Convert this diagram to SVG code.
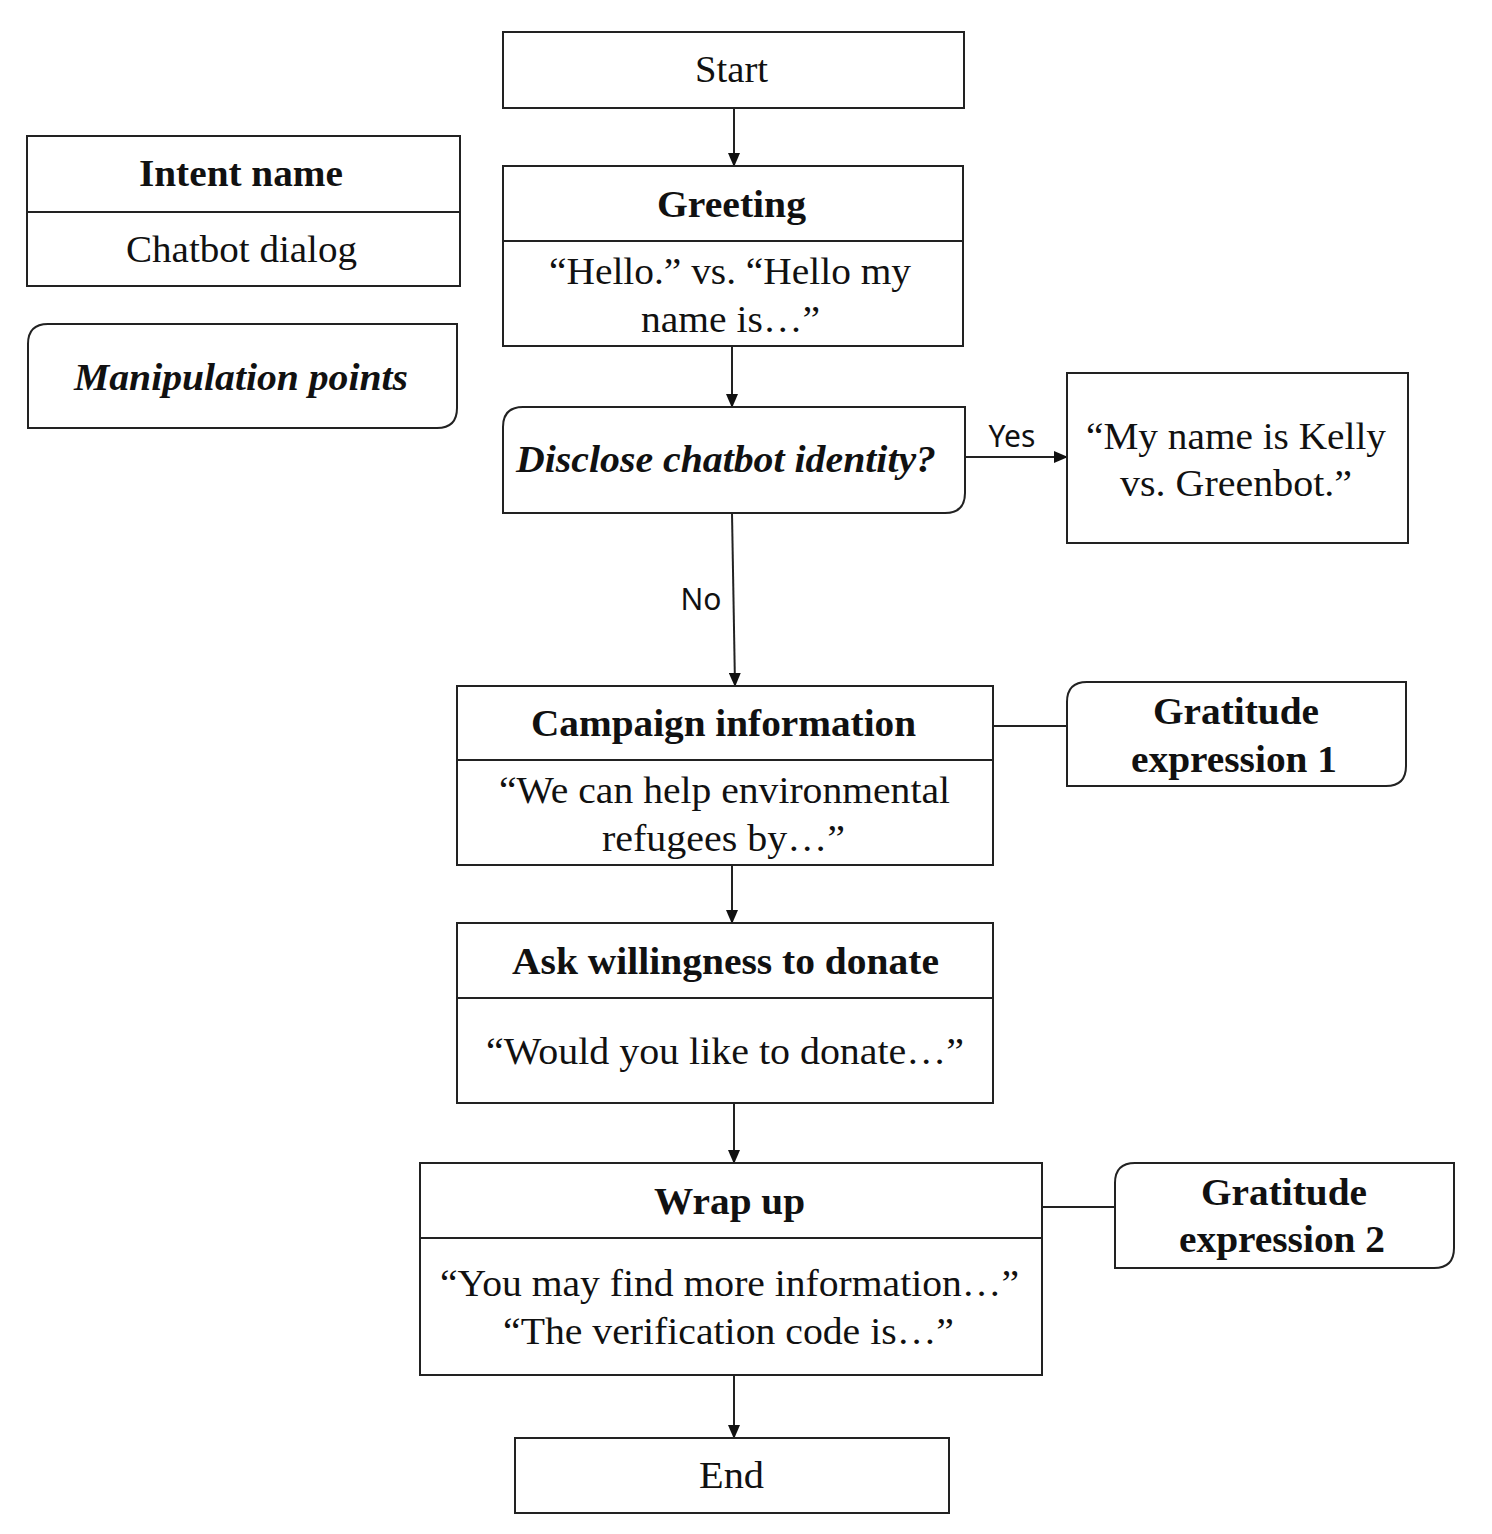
<svg xmlns="http://www.w3.org/2000/svg" width="1492" height="1534" viewBox="0 0 1492 1534">
<defs>
<marker id="ah" markerWidth="14" markerHeight="12" refX="13" refY="6" orient="auto" markerUnits="userSpaceOnUse">
<path d="M0,0 L14,6 L0,12 Z" fill="#111"/>
</marker>
<style>
.box{fill:#fff;stroke:#222;stroke-width:2}
.ln{stroke:#222;stroke-width:2;fill:none}
.t{font-family:"Liberation Serif","Times New Roman",serif;font-size:37px;fill:#111;text-anchor:middle}
.b{font-weight:bold}
.i{font-style:italic}
.s{font-family:"Noto Sans","DejaVu Sans",sans-serif;font-size:30px;fill:#111;text-anchor:middle}
</style>
</defs>
<rect width="1492" height="1534" fill="#fff"/>
<g id="connectors">
<line class="ln" x1="734" y1="108" x2="734" y2="166" marker-end="url(#ah)"/>
<line class="ln" x1="732" y1="346" x2="732" y2="407" marker-end="url(#ah)"/>
<line class="ln" x1="965" y1="457" x2="1067" y2="457" marker-end="url(#ah)"/>
<text class="s" x="1012" y="447">Yes</text>
<line class="ln" x1="732" y1="513" x2="735" y2="686" marker-end="url(#ah)"/>
<text class="s" x="701" y="610">No</text>
<line class="ln" x1="993" y1="726" x2="1067" y2="726"/>
<line class="ln" x1="732" y1="865" x2="732" y2="923" marker-end="url(#ah)"/>
<line class="ln" x1="734" y1="1103" x2="734" y2="1163" marker-end="url(#ah)"/>
<line class="ln" x1="1042" y1="1207" x2="1115" y2="1207"/>
<line class="ln" x1="734" y1="1375" x2="734" y2="1438" marker-end="url(#ah)"/>
</g>
<g id="start">
<rect class="box" x="503" y="32" width="461" height="76"/>
<text class="t" x="731.5" y="82" textLength="73" lengthAdjust="spacingAndGlyphs">Start</text>
</g>
<g id="legend-intent">
<rect class="box" x="27" y="136" width="433" height="150"/>
<line class="ln" x1="27" y1="212" x2="460" y2="212"/>
<text class="t b" x="241" y="186" textLength="204" lengthAdjust="spacingAndGlyphs">Intent name</text>
<text class="t" x="241.5" y="262" textLength="231" lengthAdjust="spacingAndGlyphs">Chatbot dialog</text>
</g>
<g id="legend-manipulation">
<path class="box" d="M48,324 H457 V408 Q457,428 437,428 H28 V344 Q28,324 48,324 Z"/>
<text class="t b i" x="241" y="390" textLength="334" lengthAdjust="spacingAndGlyphs">Manipulation points</text>
</g>
<g id="greeting">
<rect class="box" x="503" y="166" width="460" height="180"/>
<line class="ln" x1="503" y1="241" x2="963" y2="241"/>
<text class="t b" x="731.5" y="217" textLength="149" lengthAdjust="spacingAndGlyphs">Greeting</text>
<text class="t" x="730" y="284" textLength="362" lengthAdjust="spacingAndGlyphs">“Hello.” vs. “Hello my</text>
<text class="t" x="730.5" y="332" textLength="179" lengthAdjust="spacingAndGlyphs">name is…”</text>
</g>
<g id="disclose">
<path class="box" d="M523,407 H965 V493 Q965,513 945,513 H503 V427 Q503,407 523,407 Z"/>
<text class="t b i" x="726" y="472" textLength="420" lengthAdjust="spacingAndGlyphs">Disclose chatbot identity?</text>
</g>
<g id="kelly">
<rect class="box" x="1067" y="373" width="341" height="170"/>
<text class="t" x="1236" y="449" textLength="300" lengthAdjust="spacingAndGlyphs">“My name is Kelly</text>
<text class="t" x="1236" y="496" textLength="232" lengthAdjust="spacingAndGlyphs">vs. Greenbot.”</text>
</g>
<g id="campaign">
<rect class="box" x="457" y="686" width="536" height="179"/>
<line class="ln" x1="457" y1="760" x2="993" y2="760"/>
<text class="t b" x="723.5" y="736" textLength="385" lengthAdjust="spacingAndGlyphs">Campaign  information</text>
<text class="t" x="724.5" y="803" textLength="451" lengthAdjust="spacingAndGlyphs">“We can help environmental</text>
<text class="t" x="723.5" y="851" textLength="243" lengthAdjust="spacingAndGlyphs">refugees by…”</text>
</g>
<g id="gratitude1">
<path class="box" d="M1087,682 H1406 V766 Q1406,786 1386,786 H1067 V702 Q1067,682 1087,682 Z"/>
<text class="t b" x="1236" y="724" textLength="166" lengthAdjust="spacingAndGlyphs">Gratitude</text>
<text class="t b" x="1234" y="772" textLength="206" lengthAdjust="spacingAndGlyphs">expression 1</text>
</g>
<g id="ask">
<rect class="box" x="457" y="923" width="536" height="180"/>
<line class="ln" x1="457" y1="998" x2="993" y2="998"/>
<text class="t b" x="725.5" y="974" textLength="427" lengthAdjust="spacingAndGlyphs">Ask willingness to donate</text>
<text class="t" x="725" y="1064" textLength="478" lengthAdjust="spacingAndGlyphs">“Would you like to donate…”</text>
</g>
<g id="wrapup">
<rect class="box" x="420" y="1163" width="622" height="212"/>
<line class="ln" x1="420" y1="1238" x2="1042" y2="1238"/>
<text class="t b" x="729.5" y="1214" textLength="151" lengthAdjust="spacingAndGlyphs">Wrap up</text>
<text class="t" x="729.5" y="1296" textLength="579" lengthAdjust="spacingAndGlyphs">“You may find more information…”</text>
<text class="t" x="728.5" y="1344" textLength="451" lengthAdjust="spacingAndGlyphs">“The verification code is…”</text>
</g>
<g id="gratitude2">
<path class="box" d="M1135,1163 H1454 V1248 Q1454,1268 1434,1268 H1115 V1183 Q1115,1163 1135,1163 Z"/>
<text class="t b" x="1284" y="1205" textLength="166" lengthAdjust="spacingAndGlyphs">Gratitude</text>
<text class="t b" x="1282" y="1252" textLength="206" lengthAdjust="spacingAndGlyphs">expression 2</text>
</g>
<g id="end">
<rect class="box" x="515" y="1438" width="434" height="75"/>
<text class="t" x="731.5" y="1488" textLength="65" lengthAdjust="spacingAndGlyphs">End</text>
</g>
</svg>
